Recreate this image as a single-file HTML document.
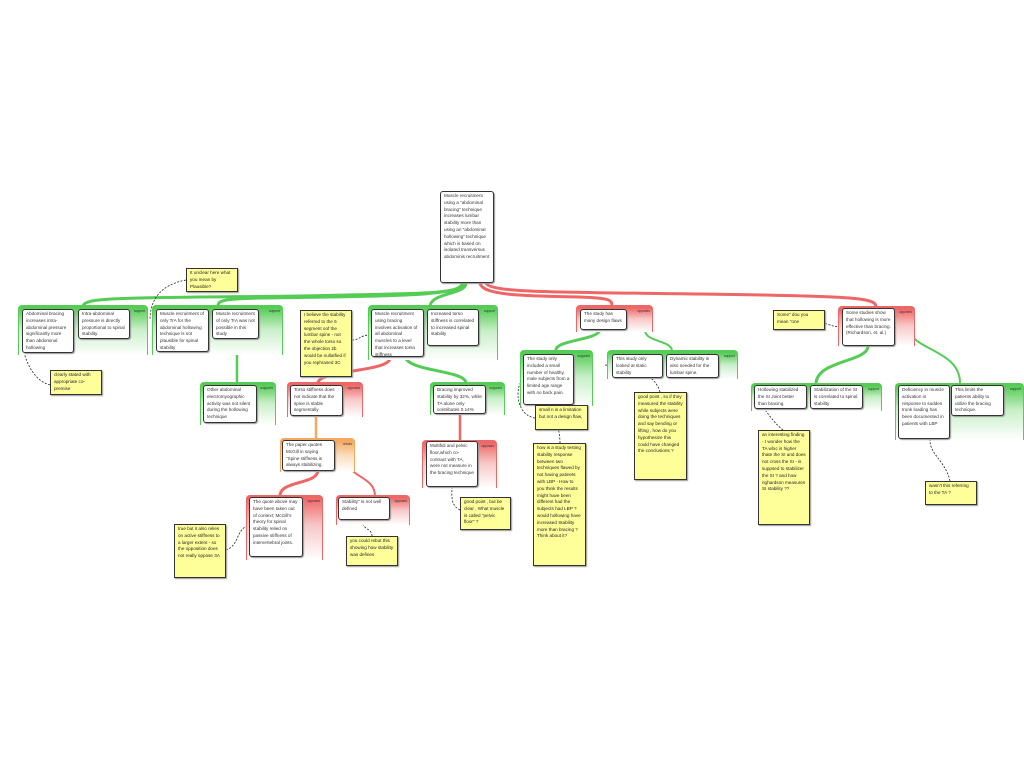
<!DOCTYPE html>
<html><head><meta charset="utf-8"><style>
body{margin:0;width:1024px;height:768px;background:#fff;position:relative;overflow:hidden;font-family:"Liberation Sans",sans-serif}
.g{position:absolute;border-top:3px solid;border-left:1px solid;border-right:1px solid;border-radius:4px 4px 0 0;box-sizing:border-box}
.gg{border-color:#55cc55;background:linear-gradient(to bottom,#55cc55 0%,#c8efc8 45%,#fff 100%)}
.gr{border-color:#ee6666;background:linear-gradient(to bottom,#ee6666 0%,#f8c8c8 45%,#fff 100%)}
.go{border-color:#f4a860;background:linear-gradient(to bottom,#f4a860 0%,#fbdcbc 45%,#fff 100%)}
.lbl{position:absolute;right:2px;top:1px;font-size:3.3px;color:#333}
.b{position:absolute;background:#fff;border:1.3px solid #333;border-radius:3px;font-size:4.6px;line-height:6.8px;padding:1px 3px;box-sizing:border-box;color:#333;box-shadow:1px 1px 1px #999;overflow:hidden}
.n{position:absolute;background:#ffff99;border:1px solid #333;font-size:4.6px;line-height:6.8px;padding:1px 3px;box-sizing:border-box;color:#222;box-shadow:1px 1px 1px #999}
svg{position:absolute;left:0;top:0}
</style></head><body>
<svg width="1024" height="768" fill="none">
<g stroke="#55cc55" stroke-width="3">
<path d="M462 283 C462 295 420 293 300 296 C120 298 85 297 83 306"/>
<path d="M464 283 C462 297 380 296 260 298 C225 299 218 300 218 306"/>
<path d="M466 283 C466 295 432 292 430 306"/>
<path d="M237 338 L237 383" stroke-width="2.5"/>
<path d="M405 357 C410 372 465 370 466 383"/>
<path d="M600 330 C598 340 556 340 556 350"/>
<path d="M645 330 C645 342 670 340 672 350" stroke-width="2"/>
<path d="M868 346 C868 362 818 360 816 383"/>
<path d="M910 330 C912 350 960 350 960 383" stroke-width="2"/>
</g>
<g stroke="#ee6666" stroke-width="3">
<path d="M480 283 C482 295 520 296 580 297 C610 298 612 300 612 306"/>
<path d="M486 283 C490 293 560 292 700 294 C860 296 876 298 876 307"/>
<path d="M390 358 C390 372 318 370 318 383"/>
<path d="M318 470 C318 485 280 480 280 496"/>
<path d="M345 455 C345 478 375 475 375 496" stroke-width="2"/>
<path d="M460 413 L460 440" stroke-width="2.5"/>
</g>
<path d="M316 415 L316 439" stroke="#f4a860" stroke-width="2.5"/>
<g stroke="#222" stroke-width="0.8" stroke-dasharray="2,1.5">
<path d="M186 280 C160 285 150 300 150 320"/>
<path d="M50 385 C30 380 20 350 22 330"/>
<path d="M352 340 C360 340 360 335 370 335"/>
<path d="M226 550 C240 545 235 530 249 525"/>
<path d="M372 536 C372 528 362 530 362 520"/>
<path d="M460 510 C450 505 452 495 452 486"/>
<path d="M535 418 C515 415 515 385 523 380"/>
<path d="M560 443 C560 430 555 420 555 406"/>
<path d="M660 392 C655 375 640 370 605 365"/>
<path d="M773 318 C835 320 825 327 842 327"/>
<path d="M783 430 C770 420 760 400 752 395"/>
<path d="M950 481 C945 460 930 455 930 440"/>
</g>
</svg>

<div class="b" style="left:440px;top:191px;width:54px;height:92px">Muscle recruitment using a "abdominal bracing" technique increases lumbar stability more than using an "abdominal hollowing" technique which is based on isolated transversus abdominis recruitment</div>

<div class="g gg" style="left:18px;top:305px;width:130px;height:50px"><span class="lbl">support</span></div>
<div class="b" style="left:22px;top:309px;width:52px;height:44px">Abdominal bracing increases intra-abdominal pressure significantly more than abdominal hollowing</div>
<div class="b" style="left:78px;top:309px;width:52px;height:30px">Intra-abdominal pressure is directly proportional to spinal stability.</div>

<div class="g gg" style="left:152px;top:305px;width:131px;height:50px"><span class="lbl">support</span></div>
<div class="b" style="left:156px;top:309px;width:53px;height:43px">Muscle recruitment of only TrA for the abdominal hollowing technique is not plausible for spinal stability</div>
<div class="b" style="left:212px;top:309px;width:47px;height:30px">Muscle recruitment of only TrA was not possible in this study</div>

<div class="g gg" style="left:200px;top:382px;width:76px;height:43px"><span class="lbl">supports</span></div>
<div class="b" style="left:203px;top:385px;width:54px;height:38px">Other abdominal electromyographic activity was not silent during the hollowing technique</div>

<div class="g gg" style="left:368px;top:305px;width:130px;height:55px"><span class="lbl">support</span></div>
<div class="b" style="left:371px;top:309px;width:53px;height:48px">Muscle recruitment using bracing involves activation of all abdominal muscles to a level that increases torso stiffness</div>
<div class="b" style="left:427px;top:309px;width:52px;height:37px">Increased torso stiffness is correlated to increased spinal stability</div>

<div class="g gr" style="left:287px;top:382px;width:76px;height:35px"><span class="lbl">opposes</span></div>
<div class="b" style="left:290px;top:385px;width:53px;height:31px">Torso stiffness does not indicate that the spine is stable segmentally</div>

<div class="g go" style="left:280px;top:438px;width:75px;height:34px"><span class="lbl">rebuts</span></div>
<div class="b" style="left:282px;top:440px;width:53px;height:31px">The paper quotes McGill in saying "Spine stiffness is always stabilizing.</div>

<div class="g gr" style="left:246px;top:495px;width:77px;height:65px"><span class="lbl">opposes</span></div>
<div class="b" style="left:249px;top:497px;width:54px;height:60px">The quote above may have been taken out of context; McGill's theory for spinal stability relied on passive stiffness of intervertebral joints.</div>

<div class="g gr" style="left:336px;top:495px;width:74px;height:30px"><span class="lbl">opposes</span></div>
<div class="b" style="left:338px;top:497px;width:52px;height:23px">Stability" is not well defined</div>

<div class="g gg" style="left:430px;top:382px;width:75px;height:33px"><span class="lbl">supports</span></div>
<div class="b" style="left:433px;top:385px;width:53px;height:29px">Bracing improved stability by 32%, while TA alone only contributes 0.14%</div>

<div class="g gr" style="left:422px;top:440px;width:75px;height:48px"><span class="lbl">opposes</span></div>
<div class="b" style="left:426px;top:441px;width:52px;height:46px">Multifidi and pelvic floor,which co-contract with TA, were not measure in the bracing technique</div>

<div class="g gr" style="left:576px;top:305px;width:77px;height:27px"><span class="lbl">opposes</span></div>
<div class="b" style="left:580px;top:309px;width:47px;height:21px">The study has many design flaws</div>

<div class="g gg" style="left:520px;top:350px;width:73px;height:56px"><span class="lbl">supports</span></div>
<div class="b" style="left:523px;top:354px;width:51px;height:51px">The study only included a small number of healthy, male subjects from a limited age range with no back pain.</div>

<div class="g gg" style="left:607px;top:350px;width:131px;height:29px"><span class="lbl">support</span></div>
<div class="b" style="left:612px;top:354px;width:51px;height:24px">This study only looked at static stability</div>
<div class="b" style="left:666px;top:354px;width:53px;height:24px">Dynamic stability is also needed for the lumbar spine.</div>

<div class="g gr" style="left:838px;top:306px;width:77px;height:40px"><span class="lbl">opposes</span></div>
<div class="b" style="left:842px;top:308px;width:53px;height:38px">Some studies show that hollowing is more effective than bracing. (Richardson, et. al.)</div>

<div class="g gg" style="left:751px;top:383px;width:131px;height:28px"><span class="lbl">support</span></div>
<div class="b" style="left:754px;top:385px;width:53px;height:24px">Hollowing stabilized the SI Joint better than bracing.</div>
<div class="b" style="left:810px;top:385px;width:53px;height:24px">Stabilization of the SI is correlated to spinal stability</div>

<div class="g gg" style="left:895px;top:383px;width:129px;height:57px"><span class="lbl">support</span></div>
<div class="b" style="left:898px;top:385px;width:52px;height:54px">Deficiency in muscle activation in response to sudden trunk loading has been documented in patients with LBP</div>
<div class="b" style="left:951px;top:385px;width:53px;height:31px">This limits the patients ability to utilize the bracing technique.</div>

<div class="n" style="left:186px;top:268px;width:52px;height:24px">It unclear here what you mean by Plausible?</div>
<div class="n" style="left:50px;top:370px;width:52px;height:25px">clearly stated with appropriate co-premise</div>
<div class="n" style="left:300px;top:310px;width:52px;height:67px">I believe the stability referred to the 5 segment oof the lumbar spine - not the whole torso so the objection 2b would be nullatfied if you rephrased 3C</div>
<div class="n" style="left:174px;top:524px;width:52px;height:54px">true but it also relies on active stiffness to a larger extent - so the opposition does not really oppose 3A</div>
<div class="n" style="left:346px;top:536px;width:52px;height:30px">you could rebut this showing how stability was defines</div>
<div class="n" style="left:460px;top:497px;width:51px;height:33px">good point , but be clear , What muscle is called "pelvic floor" ?</div>
<div class="n" style="left:535px;top:405px;width:53px;height:25px">small n is a limitation but not a design flaw,</div>
<div class="n" style="left:533px;top:443px;width:53px;height:123px">how is a study testing stability response between two techniques flawed by not having patinets with LBP - How to you think the results might have been different had the subjects had LBP ? would hollowing have increased Stability more than bracing ? Think about it?</div>
<div class="n" style="left:634px;top:392px;width:53px;height:88px">good point , so if they measured the stability while subjects were doing the techniques and say bending or lifting , how do you hypothesize this could have changed the conclusions ?</div>
<div class="n" style="left:773px;top:310px;width:52px;height:20px">Some" dou you mean "one</div>
<div class="n" style="left:758px;top:430px;width:52px;height:95px">an interesting finding - I wonder how the TA whic is higher thate the SI and does not cross the SI - is suppsed to stabilizer the SI ? and how righardson measures SI stability ??</div>
<div class="n" style="left:925px;top:481px;width:52px;height:24px">wasn't this referring to the TA ?</div>
</body></html>
